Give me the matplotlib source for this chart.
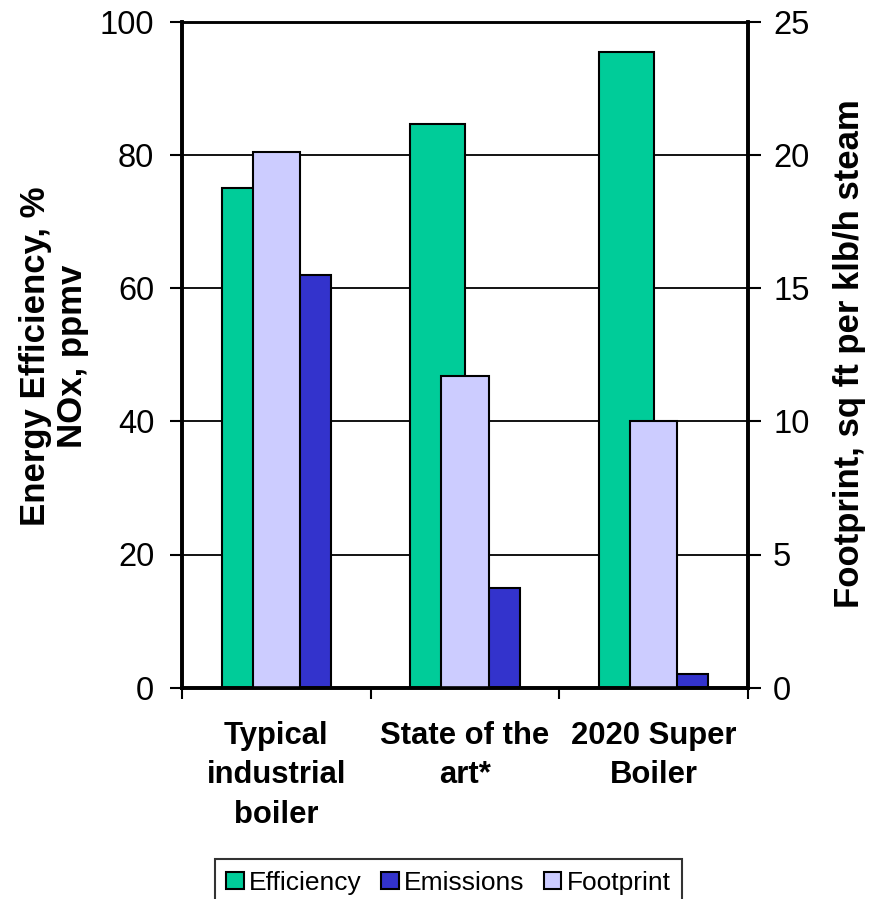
import matplotlib
matplotlib.use("Agg")
import matplotlib.pyplot as plt
import numpy as np

plt.rcParams['font.family'] = ['Liberation Sans', 'DejaVu Sans']

categories = ["Typical\nindustrial\nboiler", "State of the\nart*", "2020 Super\nBoiler"]
efficiency = [75, 84.7, 95.5]      # %, left axis
emissions = [62, 15, 2]            # NOx ppmv, left axis
footprint = [20.1, 11.7, 10]       # sq ft per klb/h steam, right axis
left_ticks = [0, 20, 40, 60, 80, 100]
right_ticks = [0, 5, 10, 15, 20, 25]

W, H = 876, 899
fig = plt.figure(figsize=(W / 100, H / 100), dpi=100)
x0, x1, ytop, ybot = 182, 748, 21.7, 687.7
ax = fig.add_axes([x0 / W, 1 - ybot / H, (x1 - x0) / W, (ybot - ytop) / H])

x = np.arange(len(categories))
w = 0.29
b1 = ax.bar(x - w / 2, efficiency, w, color='#00CC99', edgecolor='black', linewidth=1.5, label='Efficiency')
b2 = ax.bar(x + w / 2, emissions, w, color='#3333CC', edgecolor='black', linewidth=1.5, label='Emissions')
ax.set_xlim(-0.5, 2.5)
ax.set_ylim(0, 100)
ax.set_yticks(left_ticks)
ax.yaxis.grid(True, color='black', linewidth=1.3)
ax.set_axisbelow(True)

ax2 = ax.twinx()
b3 = ax2.bar(x, footprint, 0.25, color='#CCCCFF', edgecolor='black', linewidth=1.5, label='Footprint')
ax2.set_ylim(0, 25)
ax2.set_yticks(right_ticks)

for a in (ax, ax2):
    for s in ('left', 'right', 'bottom'):
        a.spines[s].set_linewidth(2.6)
    a.spines['top'].set_linewidth(1.8)

ax.tick_params(axis='y', direction='out', length=9, width=1.5, labelsize=23.5, pad=11)
ax2.tick_params(axis='y', direction='out', length=9, width=1.5, labelsize=23.5, pad=9)

ax.set_xticks(x)
ax.set_xticklabels(categories, fontsize=22.3, fontweight='bold', linespacing=1.41)
ax.tick_params(axis='x', which='major', length=0, pad=24)
ax.set_xticks([-0.5, 0.5, 1.5, 2.5], minor=True)
ax.tick_params(axis='x', which='minor', direction='out', length=8, width=1.5)

ax.set_ylabel('Energy Efficiency, %\nNOx, ppmv', fontsize=25, fontweight='bold',
              linespacing=1.15, va='center')
ax.yaxis.set_label_coords((54 - x0) / (x1 - x0), (ybot - 356) / (ybot - ytop))
ax2.set_ylabel('Footprint, sq ft per klb/h steam', fontsize=25, fontweight='bold',
               rotation=90, va='center')
ax2.yaxis.set_label_coords((849 - x0) / (x1 - x0), (ybot - 354) / (ybot - ytop))

leg = fig.legend([b1, b2, b3], ['Efficiency', 'Emissions', 'Footprint'],
                 loc='upper center', bbox_to_anchor=(448.5 / W, 1 - 859 / H),
                 ncol=3, fontsize=19, frameon=True, fancybox=False, edgecolor='black',
                 borderaxespad=0, handlelength=0.65, handleheight=0.65,
                 handletextpad=0.2, columnspacing=0.75, borderpad=0.45)
leg.get_frame().set_linewidth(1.5)

fig.savefig('out.png', dpi=100)
